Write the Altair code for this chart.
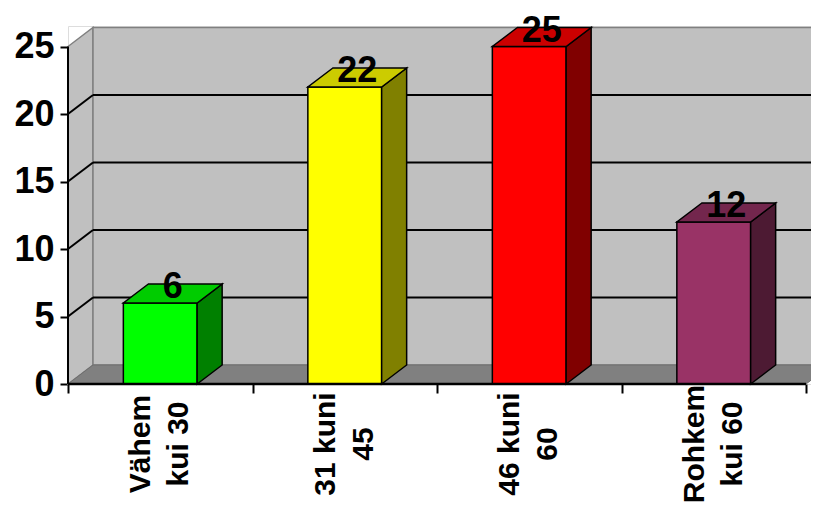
import altair as alt
import pandas as pd

# ---- data ----
categories = ["Vähem\nkui 30", "31 kuni\n45", "46 kuni\n60", "Rohkem\nkui 60"]
values = [6, 22, 25, 12]
front_colors = ["#00ff00", "#ffff00", "#ff0000", "#993366"]
top_colors = ["#00cc00", "#cccc00", "#cc0000", "#73264d"]
side_colors = ["#008000", "#808000", "#800000", "#4d1a33"]
y_ticks = [0, 5, 10, 15, 20, 25]
grid_vals = [5, 10, 15, 20]

# ---- geometry (pseudo 3D) ----
PX_X = 184.5          # pixels per category
PX_Y = 13.5           # pixels per unit
W, H = 743, 358
X_MAX = W / PX_X
Y_MAX = H / PX_Y
DX = 25 / PX_X        # depth offset (x)
DY = 19 / PX_Y        # depth offset (y)
HALF = 0.2
N = len(categories)
TOP = 25
LABEL_Y = -60 / PX_Y
LINE_H = 38
FONT = "Liberation Sans"

xs = alt.Scale(domain=[0, X_MAX], nice=False, zero=False)
ys = alt.Scale(domain=[0, Y_MAX], nice=False, zero=False)


def X(f, **kw):
    return alt.X(f, type="quantitative", scale=xs, axis=None, **kw)


def Y(f, **kw):
    return alt.Y(f, type="quantitative", scale=ys, axis=None, **kw)


# left side wall (carries the axes)
left_wall = pd.DataFrame({"x": [0, DX], "y": [0, DY], "y2": [TOP, TOP + DY]})
left_layer = alt.Chart(left_wall).mark_area(
    fill="#c0c0c0", stroke="#808080", strokeWidth=1.5
).encode(
    x=alt.X("x:Q", scale=xs, title=None,
            axis=alt.Axis(values=list(range(N + 1)), labels=False, domain=False,
                          grid=False, tickSize=9, tickWidth=2, tickColor="black")),
    y=alt.Y("y:Q", scale=ys, title=None, stack=None,
            axis=alt.Axis(values=y_ticks, domain=False, grid=False, tickSize=8,
                          tickWidth=2, tickColor="black", labelFont=FONT,
                          labelFontSize=36, labelFontWeight="bold",
                          labelColor="black", labelPadding=6)),
    y2="y2:Q",
)

# back wall
back_wall = pd.DataFrame({"x": [DX], "x2": [N + DX], "y": [DY], "y2": [TOP + DY]})
back_layer = alt.Chart(back_wall).mark_rect(
    fill="#c0c0c0", stroke="#808080", strokeWidth=1.5, clip=True
).encode(x=X("x"), x2="x2", y=Y("y"), y2="y2")

# floor
floor = pd.DataFrame({"y": [0, DY], "x": [0, DX], "x2": [N, N + DX]})
floor_layer = alt.Chart(floor).mark_area(
    orient="horizontal", fill="#808080", stroke="#6e6e6e", strokeWidth=1, clip=True
).encode(y=Y("y"), x=X("x", stack=None), x2="x2")

# back-wall gridlines
gdf = pd.DataFrame({"v": grid_vals})
gdf["yy"] = gdf["v"] + DY
gdf["x"] = DX
gdf["x2"] = N + DX
grid_back = alt.Chart(gdf).mark_rule(color="black", strokeWidth=2, clip=True).encode(
    x=X("x"), x2="x2", y=Y("yy"))

# side-wall slanted gridlines
sdf = pd.DataFrame({"v": grid_vals})
sdf["x"] = 0.0
sdf["x2"] = DX
sdf["y2"] = sdf["v"] + DY
grid_side = alt.Chart(sdf).mark_rule(color="black", strokeWidth=2).encode(
    x=X("x"), x2="x2", y=Y("v"), y2="y2")

# bars: front faces
centers = [i + 0.5 for i in range(N)]
front = pd.DataFrame({
    "cat": categories, "v": values, "col": front_colors,
    "x": [c - HALF for c in centers], "x2": [c + HALF for c in centers],
    "y0": [0] * N,
})
front_layer = alt.Chart(front).mark_rect(stroke="black", strokeWidth=1.5).encode(
    x=X("x"), x2="x2", y=Y("y0"), y2="v", fill=alt.Fill("col:N", scale=None))

# bars: side faces
side_rows = []
for c, v, col, cat in zip(centers, values, side_colors, categories):
    side_rows.append({"cat": cat, "col": col, "x": c + HALF, "y": 0, "y2": v})
    side_rows.append({"cat": cat, "col": col, "x": c + HALF + DX, "y": DY, "y2": v + DY})
side_layer = alt.Chart(pd.DataFrame(side_rows)).mark_area(
    stroke="black", strokeWidth=1.5
).encode(x=X("x"), y=Y("y", stack=None), y2="y2",
         fill=alt.Fill("col:N", scale=None), detail="cat:N")

# bars: top faces
top_rows = []
for c, v, col, cat in zip(centers, values, top_colors, categories):
    top_rows.append({"cat": cat, "col": col, "y": v, "x": c - HALF, "x2": c + HALF})
    top_rows.append({"cat": cat, "col": col, "y": v + DY, "x": c - HALF + DX, "x2": c + HALF + DX})
top_layer = alt.Chart(pd.DataFrame(top_rows)).mark_area(
    orient="horizontal", stroke="black", strokeWidth=1.5
).encode(y=Y("y"), x=X("x", stack=None), x2="x2",
         fill=alt.Fill("col:N", scale=None), detail="cat:N")

# value labels
lab = pd.DataFrame({"v": values, "x": [c + DX / 2 for c in centers],
                    "t": [str(v) for v in values]})
value_layer = alt.Chart(lab).mark_text(
    font=FONT, fontSize=36, fontWeight="bold", color="black",
    align="center", baseline="alphabetic", dy=-5
).encode(x=X("x"), y=Y("v"), text="t:N")

# category labels (two lines, rotated; dy shifts the block to centre it)
cl = pd.DataFrame({"cat": categories, "x": centers, "y": [LABEL_Y] * N})
cat_layer = alt.Chart(cl).mark_text(
    font=FONT, fontSize=30, fontWeight="bold", color="black", angle=270,
    align="center", baseline="middle", lineBreak="\n", lineHeight=LINE_H,
    dy=-LINE_H / 2
).encode(x=X("x"), y=Y("y"), text="cat:N")

# front axis lines
yline = alt.Chart(pd.DataFrame({"x": [0], "y": [0], "y2": [TOP]})).mark_rule(
    color="black", strokeWidth=2).encode(x=X("x"), y=Y("y"), y2="y2")
xline = alt.Chart(pd.DataFrame({"x": [0], "x2": [N], "y": [0]})).mark_rule(
    color="black", strokeWidth=2.5).encode(x=X("x"), x2="x2", y=Y("y"))

chart = alt.layer(
    left_layer, back_layer, floor_layer, grid_back, grid_side,
    front_layer, side_layer, top_layer, value_layer, cat_layer, yline, xline
).resolve_axis(x="independent", y="independent").properties(
    width=W, height=H,
    autosize=alt.AutoSizeParams(type="none"),
    padding={"left": 60, "top": 18, "right": 0, "bottom": 120},
).configure_view(stroke=None).configure(background="white")

chart.save("out.html", embed_options={"renderer": "svg", "actions": False})
